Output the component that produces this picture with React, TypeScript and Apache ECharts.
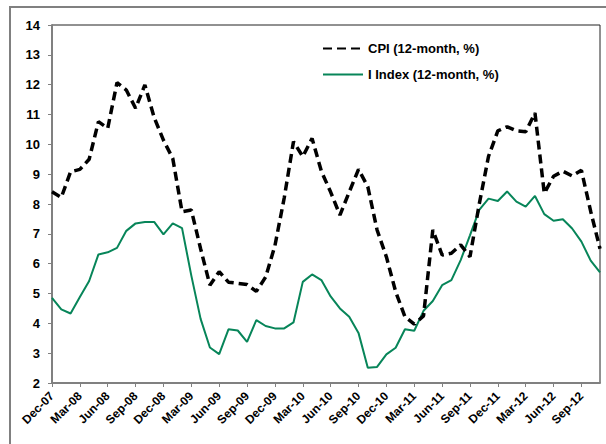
import React, { useEffect, useRef } from "react";
import * as echarts from "echarts";

const months: string[] = [
  "Dec-07", "Jan-08", "Feb-08", "Mar-08", "Apr-08", "May-08", "Jun-08", "Jul-08", "Aug-08", "Sep-08", "Oct-08", "Nov-08",
  "Dec-08", "Jan-09", "Feb-09", "Mar-09", "Apr-09", "May-09", "Jun-09", "Jul-09", "Aug-09", "Sep-09", "Oct-09", "Nov-09",
  "Dec-09", "Jan-10", "Feb-10", "Mar-10", "Apr-10", "May-10", "Jun-10", "Jul-10", "Aug-10", "Sep-10", "Oct-10", "Nov-10",
  "Dec-10", "Jan-11", "Feb-11", "Mar-11", "Apr-11", "May-11", "Jun-11", "Jul-11", "Aug-11", "Sep-11", "Oct-11", "Nov-11",
  "Dec-11", "Jan-12", "Feb-12", "Mar-12", "Apr-12", "May-12", "Jun-12", "Jul-12", "Aug-12", "Sep-12", "Oct-12", "Nov-12",
];

const cpi: number[] = [
  8.41, 8.22, 9.08, 9.16, 9.5, 10.76, 10.54, 12.07, 11.82, 11.21, 11.99, 10.9,
  10.14, 9.53, 7.74, 7.8, 6.5, 5.28, 5.73, 5.38, 5.34, 5.3, 5.07, 5.55,
  6.6, 8.2, 10.09, 9.59, 10.2, 9.1, 8.4, 7.63, 8.4, 9.16, 8.58, 7.13,
  6.23, 5.06, 4.22, 3.97, 4.25, 7.13, 6.29, 6.35, 6.63, 6.23, 8.0, 9.6,
  10.45, 10.59, 10.45, 10.42, 11.05, 8.36, 8.93, 9.1, 8.94, 9.13, 7.75, 6.5,
];

const iIndex: number[] = [
  4.85, 4.47, 4.33, 4.88, 5.42, 6.31, 6.38, 6.53, 7.1, 7.35, 7.4, 7.4,
  6.98, 7.35, 7.19, 5.6, 4.15, 3.19, 2.97, 3.8, 3.76, 3.38, 4.11, 3.91,
  3.83, 3.83, 4.03, 5.39, 5.64, 5.45, 4.9, 4.5, 4.22, 3.68, 2.51, 2.54,
  2.96, 3.18, 3.8, 3.75, 4.42, 4.75, 5.28, 5.45, 6.12, 6.95, 7.8, 8.18,
  8.1, 8.42, 8.08, 7.91, 8.27, 7.66, 7.44, 7.49, 7.18, 6.74, 6.1, 5.71,
];

const seriesNames: string[] = ["CPI (12-month, %)", "I Index (12-month, %)"];
const yTicks = { min: 2, max: 14, step: 1 };

const FONT = "'Liberation Sans', Arial, sans-serif";

export default function App() {
  const ref = useRef<HTMLDivElement>(null);
  useEffect(() => {
    if (!ref.current) return;
    const chart = echarts.init(ref.current, null, { renderer: "svg" });
    chart.setOption({
      animation: false,
      backgroundColor: "#ffffff",
      graphic: [
        {
          type: "rect",
          shape: { x: 10, y: 7, width: 700, height: 500 },
          style: { fill: "none", stroke: "#808080", lineWidth: 2 },
          silent: true,
          z: -1,
        },
      ],
      grid: {
        left: 52,
        top: 25,
        right: 6,
        bottom: 61,
        show: true,
        borderColor: "#222",
        borderWidth: 1,
        backgroundColor: "transparent",
      },
      legend: {
        orient: "vertical",
        left: 317,
        top: 37,
        itemWidth: 40,
        itemHeight: 14,
        itemGap: 13,
        itemStyle: { opacity: 0 },
        textStyle: { fontFamily: FONT, fontWeight: "bold", fontSize: 13, color: "#000" },
        data: seriesNames,
      },
      xAxis: {
        type: "category",
        data: months,
        boundaryGap: false,
        axisLine: { lineStyle: { color: "#808080", width: 2 } },
        axisTick: { interval: 2, length: 4, lineStyle: { color: "#808080", width: 1 } },
        axisLabel: {
          interval: 2,
          rotate: 45,
          margin: 11,
          fontFamily: FONT,
          fontWeight: "bold",
          fontSize: 12,
          color: "#000",
        },
        splitLine: { show: false },
      },
      yAxis: {
        type: "value",
        min: yTicks.min,
        max: yTicks.max,
        interval: yTicks.step,
        axisLine: { show: true, lineStyle: { color: "#808080", width: 2 } },
        axisTick: { show: true, length: 4, lineStyle: { color: "#808080" } },
        axisLabel: {
          margin: 12,
          fontFamily: FONT,
          fontWeight: "bold",
          fontSize: 13,
          color: "#000",
        },
        splitLine: { show: false },
      },
      series: [
        {
          name: seriesNames[0],
          type: "line",
          data: cpi,
          symbol: "none",
          color: "#000",
          lineStyle: { color: "#000", width: 3.5, type: [9, 5] },
          z: 3,
        },
        {
          name: seriesNames[1],
          type: "line",
          data: iIndex,
          symbol: "none",
          color: "#078559",
          lineStyle: { color: "#078559", width: 2 },
          z: 2,
        },
      ],
    });
    return () => chart.dispose();
  }, []);
  return (
    <div
      ref={ref}
      style={{ position: "fixed", left: 0, top: 0, width: 606, height: 444, background: "#fff" }}
    />
  );
}
